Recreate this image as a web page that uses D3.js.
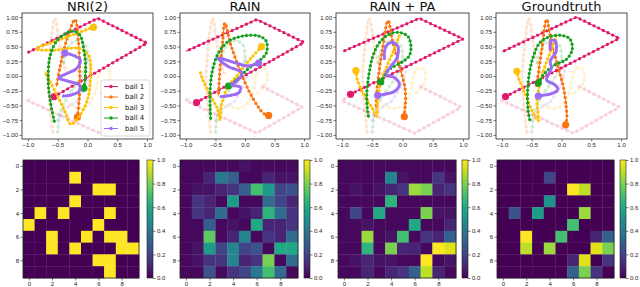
<!DOCTYPE html>
<html lang="en">
<head>
<meta charset="UTF-8">
<title>Ball trajectories and interaction graphs</title>
<script src="https://d3js.org/d3.v7.min.js"></script>
<style>
  body { margin: 0; background: #fff; }
  svg { display: block; font-family: "DejaVu Sans", sans-serif; }
  .tick text { font-size: 6px; fill: #222; }
  .tick line { stroke: #222; stroke-width: 0.6; }
  .domain { display: none; }
</style>
</head>
<body>
<div id="chart"></div>
<script>
// panel titles and legend labels
const titles = ["NRI(2)", "RAIN", "RAIN + PA", "Groundtruth"];
const balls = ["ball 1", "ball 2", "ball 3", "ball 4", "ball 5"];
const ballColors = ["#e0196b", "#fb7410", "#ffc20a", "#16a021", "#9d6cf5"];

// observed (faded) part, same in every panel
const pastTraj = [
  [[0.3,-0.18],[0.97,-0.53],[0.2,-0.97],[-1.0,-0.42],[-0.94,-0.37]],
  [[-0.35,0.05],[-0.43,0.3],[-0.48,0.6],[-0.55,0.98],[-0.63,0.4],[-0.66,-0.1],[-0.62,-0.6],[-0.58,-0.98]],
  [[-0.3,-0.5],[-0.1,-0.55],[0.05,-0.45],[0.15,-0.2],[0.2,0.05],[0.3,0.15],[0.38,0.05],[0.35,-0.15],[0.2,-0.3]],
  [[-0.5,-0.95],[-0.45,-0.6],[-0.3,-0.3],[-0.1,0.0],[0.0,0.3],[-0.05,0.55],[-0.2,0.6],[-0.35,0.45],[-0.4,0.2]],
  [[-0.5,-0.75],[-0.4,-0.6],[-0.3,-0.5],[-0.2,-0.45],[-0.1,-0.3],[0.0,-0.1],[0.05,0.1],[0.0,0.3]]
];

// predicted trajectories (first point = large marker)
const trajNRI = [
  [[-0.56,-0.35],[1.0,0.56],[0.17,0.98],[-1.0,0.40]],
  [[-0.17,-0.70],[-0.14,-0.40],[-0.13,0.05],[-0.15,0.56],[-0.21,0.96],[-0.35,0.61],[-0.46,0.16],[-0.52,-0.18]],
  [[0.10,0.83],[-0.35,0.66],[-0.86,0.46],[-0.55,0.44],[-0.15,0.47],[0.02,0.35],[0.05,0.0],[0.0,-0.4],[-0.15,-0.7],[-0.28,-0.82],[-0.38,-0.6],[-0.55,-0.25],[-0.72,0.08]],
  [[-0.06,-0.21],[-0.03,0.10],[-0.06,0.44],[-0.13,0.70],[-0.24,0.76],[-0.35,0.73],[-0.52,0.59],[-0.63,0.33],[-0.66,-0.07],[-0.62,-0.46],[-0.55,-0.80]],
  [[-0.38,0.39],[-0.21,0.34],[-0.12,0.27],[-0.18,0.13],[-0.35,0.04],[-0.48,-0.03],[-0.32,-0.09],[-0.14,-0.15],[-0.13,-0.25],[-0.27,-0.32],[-0.41,-0.34]]
];
const trajRAIN = [
  [[-0.82,-0.45],[1.0,0.57],[0.2,0.96],[-1.0,0.42]],
  [[0.40,-0.67],[0.32,-0.64],[0.22,-0.52],[0.06,-0.24],[-0.11,0.16],[-0.25,0.56],[-0.34,0.90],[-0.38,0.56],[-0.42,0.16],[-0.45,-0.35]],
  [[0.28,0.50],[0.1,0.3],[-0.1,0.05],[-0.3,-0.2],[-0.4,-0.5],[-0.42,-0.75],[-0.47,-0.55],[-0.6,-0.3],[-0.72,-0.05],[-0.76,0.08]],
  [[-0.28,-0.17],[-0.11,-0.04],[0.06,0.13],[0.23,0.25],[0.36,0.39],[0.36,0.59],[0.23,0.68],[-0.03,0.68],[-0.28,0.59],[-0.45,0.39],[-0.55,0.10],[-0.59,-0.24],[-0.59,-0.52],[-0.58,-0.75]],
  [[0.23,0.22],[0.05,0.17],[-0.15,0.22],[-0.45,0.30],[-0.3,0.17],[-0.05,0.05],[-0.14,-0.09],[-0.23,-0.15],[-0.08,-0.19],[-0.10,-0.28],[-0.31,-0.34],[-0.42,-0.35]]
];
const trajRAINPA = [
  [[-0.86,-0.31],[1.0,0.63],[0.28,0.98],[-0.98,0.42]],
  [[0.03,-0.69],[0.04,-0.55],[0.05,-0.42],[0.04,-0.2],[-0.05,0.17],[-0.16,0.57],[-0.24,0.94],[-0.33,0.46],[-0.41,-0.11],[-0.44,-0.57]],
  [[-0.77,0.09],[-0.75,-0.05],[-0.65,-0.3],[-0.5,-0.55],[-0.43,-0.68],[-0.41,-0.40],[-0.36,-0.11],[-0.27,0.14],[-0.16,0.40],[-0.05,0.69]],
  [[-0.36,-0.10],[-0.22,0.11],[-0.02,0.23],[0.11,0.34],[0.14,0.51],[0.09,0.67],[-0.05,0.74],[-0.22,0.71],[-0.38,0.57],[-0.49,0.34],[-0.55,0.06],[-0.59,-0.29],[-0.58,-0.57],[-0.56,-0.71]],
  [[-0.41,-0.33],[-0.30,-0.31],[-0.13,-0.26],[-0.05,-0.14],[-0.13,-0.03],[-0.27,0.03],[-0.19,0.17],[-0.09,0.31],[-0.08,0.51],[-0.19,0.57],[-0.28,0.49],[-0.30,0.29]]
];
const trajTruth = [
  [[-0.94,-0.35],[0.97,0.64],[0.25,1.0],[-1.0,0.41]],
  [[0.07,-0.83],[0.09,-0.70],[0.08,-0.53],[0.03,-0.18],[-0.06,0.16],[-0.17,0.57],[-0.25,0.96],[-0.33,0.45],[-0.42,-0.18]],
  [[-0.75,0.08],[-0.72,-0.04],[-0.61,-0.30],[-0.47,-0.64],[-0.39,-0.76],[-0.41,-0.41],[-0.36,-0.12],[-0.28,0.16],[-0.17,0.45],[-0.08,0.68]],
  [[-0.39,-0.12],[-0.28,0.05],[-0.11,0.19],[0.08,0.28],[0.18,0.45],[0.14,0.63],[0,0.69],[-0.19,0.67],[-0.36,0.57],[-0.47,0.34],[-0.54,0.05],[-0.57,-0.30],[-0.56,-0.59],[-0.53,-0.76]],
  [[-0.39,-0.34],[-0.33,-0.33],[-0.17,-0.30],[-0.06,-0.23],[-0.11,-0.15],[-0.25,-0.07],[-0.22,0.02],[-0.17,0.14],[-0.19,0.25],[-0.09,0.42],[-0.11,0.60],[-0.18,0.60],[-0.19,0.45]]
];

// interaction matrices
const adjNRI = [
  [0,0,0,0,0,0,0,0,0,0],
  [0,0,0,0,1,0,0,0,0,0],
  [0,0,0,0,0,0,1,1,0,0],
  [0,0,0,0,1,0,0,0,0,0],
  [0,1,0,1,0,0,0,1,0,0],
  [1,0,0,0,0,0,1,0,0,0],
  [0,0,1,0,0,1,0,1,1,0],
  [0,0,1,0,1,0,0,0,1,1],
  [0,0,0,0,0,0,1,1,0,0],
  [0,0,0,0,0,0,0,1,0,0]
];
const adjRAIN = [
  [0.02,0.02,0.02,0.02,0.02,0.05,0.02,0.02,0.02,0.02],
  [0.02,0.02,0.1,0.4,0.3,0.02,0.02,0.1,0.05,0.05],
  [0.02,0.05,0.05,0.1,0.15,0.3,0.7,0.55,0.2,0.25],
  [0.02,0.15,0.1,0.02,0.55,0.02,0.02,0.35,0.2,0.1],
  [0.02,0.15,0.1,0.35,0.02,0.05,0.1,0.65,0.35,0.15],
  [0.02,0.02,0.3,0.02,0.05,0.02,0.6,0.1,0.1,0.15],
  [0.02,0.02,0.75,0.02,0.1,0.45,0.02,0.15,0.1,0.35],
  [0.02,0.05,0.55,0.2,0.45,0.2,0.25,0.02,0.6,0.6],
  [0.02,0.05,0.15,0.15,0.45,0.1,0.15,0.8,0.02,0.35],
  [0.02,0.02,0.25,0.02,0.15,0.2,0.4,0.7,0.35,0.02]
];
const adjRAINPA = [
  [0.02,0.02,0.02,0.02,0.02,0.02,0.02,0.02,0.02,0.02],
  [0.02,0.02,0.02,0.02,0.45,0.05,0.02,0.02,0.15,0.05],
  [0.02,0.05,0.02,0.05,0.1,0.15,0.85,0.8,0.1,0.15],
  [0.02,0.02,0.02,0.02,0.65,0.02,0.02,0.02,0.02,0.02],
  [0.02,0.2,0.02,0.6,0.02,0.02,0.02,0.8,0.05,0.05],
  [0.02,0.02,0.05,0.02,0.02,0.02,0.6,0.02,0.02,0.1],
  [0.02,0.02,0.85,0.02,0.05,0.7,0.02,0.15,0.1,0.3],
  [0.02,0.02,0.65,0.02,0.8,0.1,0.1,0.02,1.0,0.95],
  [0.02,0.05,0.1,0.05,0.05,0.02,0.02,1.0,0.02,0.05],
  [0.02,0.02,0.1,0.02,0.1,0.15,0.3,0.9,0.1,0.02]
];
const adjTruth = [
  [0,0,0,0,0,0,0,0,0,0],
  [0,0,0,0,0.2,0,0,0,0,0],
  [0,0,0,0,0,0,1.0,0.9,0,0],
  [0,0,0,0,0.5,0,0,0,0,0],
  [0,0.25,0,0.55,0,0,0,0.85,0,0],
  [0,0,0,0,0,0,0.7,0,0,0],
  [0,0,1.0,0,0,0.7,0,0,0.1,0.3],
  [0,0,0.9,0,0.85,0,0,0,0.95,0.8],
  [0,0,0,0,0,0,0.1,0.95,0,0.15],
  [0,0,0,0,0,0,0.3,0.8,0.15,0]
];

const xTicks = [-1, -0.5, 0, 0.5, 1];
const yTicks = [-1, -0.75, -0.5, -0.25, 0, 0.25, 0.5, 0.75, 1];
const cellTicks = [0, 2, 4, 6, 8];
const barTicks = [0, 0.2, 0.4, 0.6, 0.8, 1.0];

const trajSets = [trajNRI, trajRAIN, trajRAINPA, trajTruth];
const adjSets = [adjNRI, adjRAIN, adjRAINPA, adjTruth];

// layout
const W = 640, H = 287;
const topX = [[22, 153], [180, 310], [336, 469], [496, 627]];
const topY = [13, 139];
const heatX = [[23, 139], [180, 298], [338, 456], [497, 614]];
const barX = [147, 304, 462, 620];
const heatY = [160, 278];
const dotGap = [5.2, 4.6, 4.2, 4.2, 2.0];

const svg = d3.select("#chart").append("svg")
    .attr("width", W)
    .attr("height", H);

const defs = svg.append("defs");
const grad = defs.append("linearGradient")
    .attr("id", "viridis")
    .attr("x1", 0).attr("y1", 1).attr("x2", 0).attr("y2", 0);
d3.range(0, 1.0001, 0.1).forEach(t => {
    grad.append("stop").attr("offset", t).attr("stop-color", d3.interpolateViridis(t));
});

const color = d3.scaleSequential(d3.interpolateViridis).domain([0, 1]);

// one trajectory: thin line + round-cap dash dots
function drawTraj(g, pts, i, x, y, faded) {
    const line = d3.line()
        .x(d => x(d[0]))
        .y(d => y(d[1]))
        .curve(i === 0 ? d3.curveLinear : d3.curveCatmullRom.alpha(0.5));
    const grp = g.append("g").attr("opacity", faded ? 0.2 : 1);
    grp.append("path")
        .attr("d", line(pts))
        .attr("fill", "none")
        .attr("stroke", ballColors[i])
        .attr("stroke-width", 1);
    grp.append("path")
        .attr("d", line(pts))
        .attr("fill", "none")
        .attr("stroke", ballColors[i])
        .attr("stroke-width", faded ? 3.6 : 3.3)
        .attr("stroke-linecap", "round")
        .attr("stroke-dasharray", "0 " + (faded ? 5.5 : dotGap[i]));
    if (!faded) {
        grp.append("circle")
            .attr("cx", x(pts[0][0]))
            .attr("cy", y(pts[0][1]))
            .attr("r", 3.6)
            .attr("fill", ballColors[i]);
    }
}

// top row: trajectories
titles.forEach((title, p) => {
    const x = d3.scaleLinear().domain([-1.1, 1.1]).range(topX[p]);
    const y = d3.scaleLinear().domain([-1.07, 1.07]).range([topY[1], topY[0]]);
    const g = svg.append("g");

    defs.append("clipPath").attr("id", "clip" + p)
        .append("rect")
        .attr("x", topX[p][0]).attr("y", topY[0])
        .attr("width", topX[p][1] - topX[p][0])
        .attr("height", topY[1] - topY[0]);

    const plot = g.append("g").attr("clip-path", "url(#clip" + p + ")");
    pastTraj.forEach((pts, i) => drawTraj(plot, pts, i, x, y, true));
    trajSets[p].forEach((pts, i) => drawTraj(plot, pts, i, x, y, false));

    g.append("rect")
        .attr("x", topX[p][0]).attr("y", topY[0])
        .attr("width", topX[p][1] - topX[p][0])
        .attr("height", topY[1] - topY[0])
        .attr("fill", "none")
        .attr("stroke", "#222")
        .attr("stroke-width", 0.8);

    g.append("g")
        .attr("transform", "translate(0," + topY[1] + ")")
        .call(d3.axisBottom(x).tickValues(xTicks).tickFormat(d3.format(".1f")).tickSize(2.5).tickPadding(1.5));
    g.append("g")
        .attr("transform", "translate(" + topX[p][0] + ",0)")
        .call(d3.axisLeft(y).tickValues(yTicks).tickFormat(d3.format(".2f")).tickSize(2.5).tickPadding(1.5));

    g.append("text")
        .attr("x", (topX[p][0] + topX[p][1]) / 2)
        .attr("y", 10.5)
        .attr("text-anchor", "middle")
        .style("font-size", "13px")
        .attr("fill", "#111")
        .text(title);
});

// legend in the first panel
const leg = svg.append("g");
leg.append("rect")
    .attr("x", 101).attr("y", 80)
    .attr("width", 49).attr("height", 56)
    .attr("rx", 2)
    .attr("fill", "#fff")
    .attr("fill-opacity", 0.85)
    .attr("stroke", "#ccc")
    .attr("stroke-width", 0.7);
balls.forEach((b, i) => {
    const yy = 86.5 + i * 10.5;
    leg.append("line")
        .attr("x1", 104).attr("x2", 118)
        .attr("y1", yy).attr("y2", yy)
        .attr("stroke", ballColors[i]).attr("stroke-width", 1);
    leg.append("circle")
        .attr("cx", 111).attr("cy", yy).attr("r", 1.7)
        .attr("fill", ballColors[i]);
    leg.append("text")
        .attr("x", 125).attr("y", yy)
        .attr("dy", "0.35em")
        .style("font-size", "7px")
        .attr("fill", "#111")
        .text(b);
});

// bottom row: heatmaps with colorbars
adjSets.forEach((adj, p) => {
    const x = d3.scaleLinear().domain([-0.5, 9.5]).range(heatX[p]);
    const y = d3.scaleLinear().domain([-0.5, 9.5]).range(heatY);
    const g = svg.append("g");

    adj.forEach((row, r) => {
        row.forEach((v, c) => {
            g.append("rect")
                .attr("x", x(c - 0.5))
                .attr("y", y(r - 0.5))
                .attr("width", x(c + 0.5) - x(c - 0.5) + 0.3)
                .attr("height", y(r + 0.5) - y(r - 0.5) + 0.3)
                .attr("fill", color(v));
        });
    });

    g.append("rect")
        .attr("x", heatX[p][0]).attr("y", heatY[0])
        .attr("width", heatX[p][1] - heatX[p][0])
        .attr("height", heatY[1] - heatY[0])
        .attr("fill", "none")
        .attr("stroke", "#222")
        .attr("stroke-width", 0.8);

    g.append("g")
        .attr("transform", "translate(0," + heatY[1] + ")")
        .call(d3.axisBottom(x).tickValues(cellTicks).tickFormat(d3.format("d")).tickSize(2.5).tickPadding(1));
    g.append("g")
        .attr("transform", "translate(" + heatX[p][0] + ",0)")
        .call(d3.axisLeft(y).tickValues(cellTicks).tickFormat(d3.format("d")).tickSize(2.5).tickPadding(1.5));

    // colorbar
    const cb = d3.scaleLinear().domain([0, 1]).range([heatY[1], heatY[0]]);
    g.append("rect")
        .attr("x", barX[p]).attr("y", heatY[0])
        .attr("width", 6)
        .attr("height", heatY[1] - heatY[0])
        .attr("fill", "url(#viridis)")
        .attr("stroke", "#222")
        .attr("stroke-width", 0.6);
    g.append("g")
        .attr("transform", "translate(" + (barX[p] + 6) + ",0)")
        .call(d3.axisRight(cb).tickValues(barTicks).tickFormat(d3.format(".1f")).tickSize(2.5).tickPadding(1.5));
});
</script>
</body>
</html>
